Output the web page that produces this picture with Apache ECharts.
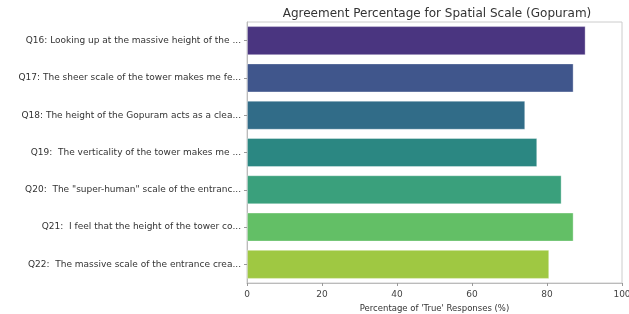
<!DOCTYPE html>
<html>
<head>
<meta charset="utf-8">
<script src="https://cdn.jsdelivr.net/npm/echarts@6/dist/echarts.min.js"></script>
<style>
  html, body { margin: 0; padding: 0; background: #fff; }
  #chart { width: 629px; height: 314px; }
</style>
</head>
<body>
<div id="chart"></div>
<script>
// questions, top to bottom
const questions = [
  'Q16: Looking up at the massive height of the ...',
  'Q17: The sheer scale of the tower makes me fe...',
  'Q18: The height of the Gopuram acts as a clea...',
  'Q19:  The verticality of the tower makes me ...',
  'Q20:  The "super-human" scale of the entranc...',
  'Q21:  I feel that the height of the tower co...',
  'Q22:  The massive scale of the entrance crea...'
]
const agreePct = [90.3, 87.1, 74.2, 77.4, 83.9, 87.1, 80.6]
// viridis, a little muted
const barColors = ['#4a3580', '#40568c', '#316c88', '#2b8782', '#3aa07c', '#63bf66', '#9fc842']
const xTicks = [0, 20, 40, 60, 80, 100]

const mychart = echarts.init(document.getElementById('chart'))
const option = {
  animation: false,
  title: {
    text: 'Agreement Percentage for Spatial Scale (Gopuram)',
    left: 432,
    textAlign: 'center',
    top: 3,
    textStyle: {
      fontFamily: 'DejaVu Sans',
      fontSize: 12,
      fontWeight: 'normal',
      color: '#333'
    }
  },
  grid: {
    left: 247,
    right: 7,
    top: 22,
    bottom: 31,
    outerBoundsMode: 'none',
    containLabel: false,
    show: true,
    borderColor: '#cccccc',
    borderWidth: 1
  },
  xAxis: {
    type: 'value',
    min: 0,
    max: 100,
    interval: 20,
    name: 'Percentage of \'True\' Responses (%)',
    nameLocation: 'middle',
    nameGap: 17,
    nameTextStyle: { fontFamily: 'DejaVu Sans', fontSize: 8.5, color: '#333' },
    axisLine: { show: true, lineStyle: { color: '#bbbbbb' } },
    axisTick: { show: true, length: 3, lineStyle: { color: '#999' } },
    axisLabel: {
      fontFamily: 'DejaVu Sans',
      fontSize: 9,
      color: '#444',
      margin: 7,
      formatter: v => xTicks.includes(v) ? String(v) : ''
    },
    splitLine: { show: false }
  },
  yAxis: {
    type: 'category',
    inverse: true,
    data: questions,
    axisLine: { show: true, lineStyle: { color: '#bbbbbb' } },
    axisTick: { show: true, alignWithLabel: true, length: 3, lineStyle: { color: '#999' } },
    axisLabel: {
      fontFamily: 'DejaVu Sans',
      fontSize: 9,
      color: '#333',
      margin: 6
    }
  },
  series: [{
    type: 'bar',
    data: agreePct.map((v, i) => ({ value: v, itemStyle: { color: barColors[i] } })),
    barCategoryGap: '22%',
    itemStyle: { borderColor: 'rgba(255,255,255,0.35)', borderWidth: 1 }
  }]
}
mychart.setOption(option)
</script>
</body>
</html>
